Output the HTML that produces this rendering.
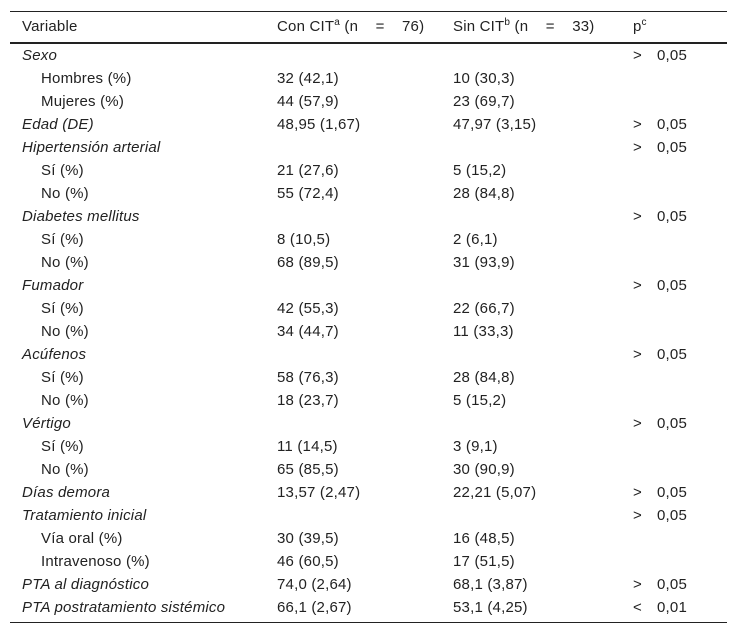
<!DOCTYPE html>
<html><head><meta charset="utf-8"><style>
html,body{margin:0;padding:0;background:#fff;}
body{width:738px;height:637px;position:relative;overflow:hidden;font-family:"Liberation Sans",Arial,sans-serif;font-size:15px;letter-spacing:0.2px;color:#222;}
.rule{position:absolute;left:10px;width:717px;background:#222;}
.row{position:absolute;left:0;width:738px;height:23px;line-height:23px;}
.row span{position:absolute;top:0;white-space:nowrap;}
.c0{left:22px}.c0.ind{left:41px}.c0.it{font-style:italic}
.c1{left:277px}.c2{left:453px}.c3{left:633px}.c4{left:657px}
sup{font-size:10px;line-height:0;vertical-align:6px;}
</style></head><body>
<div class="rule" style="top:11px;height:1px"></div>
<div class="row" style="top:15px">
<span class="c0">Variable</span>
<span class="c1">Con CIT<sup>a</sup> (n &nbsp;&nbsp;&nbsp;= &nbsp;&nbsp;&nbsp;76)</span>
<span class="c2">Sin CIT<sup>b</sup> (n &nbsp;&nbsp;&nbsp;= &nbsp;&nbsp;&nbsp;33)</span>
<span class="c3">p<sup>c</sup></span>
</div>
<div class="rule" style="top:42px;height:2px"></div>
<div id="body"></div>
<div class="rule" style="top:622px;height:1px"></div>
<script>
const rows=[
["Sexo",1,"","",">","0,05"],
["Hombres (%)",0,"32 (42,1)","10 (30,3)","",""],
["Mujeres (%)",0,"44 (57,9)","23 (69,7)","",""],
["Edad (DE)",1,"48,95 (1,67)","47,97 (3,15)",">","0,05"],
["Hipertensión arterial",1,"","",">","0,05"],
["Sí (%)",0,"21 (27,6)","5 (15,2)","",""],
["No (%)",0,"55 (72,4)","28 (84,8)","",""],
["Diabetes mellitus",1,"","",">","0,05"],
["Sí (%)",0,"8 (10,5)","2 (6,1)","",""],
["No (%)",0,"68 (89,5)","31 (93,9)","",""],
["Fumador",1,"","",">","0,05"],
["Sí (%)",0,"42 (55,3)","22 (66,7)","",""],
["No (%)",0,"34 (44,7)","11 (33,3)","",""],
["Acúfenos",1,"","",">","0,05"],
["Sí (%)",0,"58 (76,3)","28 (84,8)","",""],
["No (%)",0,"18 (23,7)","5 (15,2)","",""],
["Vértigo",1,"","",">","0,05"],
["Sí (%)",0,"11 (14,5)","3 (9,1)","",""],
["No (%)",0,"65 (85,5)","30 (90,9)","",""],
["Días demora",1,"13,57 (2,47)","22,21 (5,07)",">","0,05"],
["Tratamiento inicial",1,"","",">","0,05"],
["Vía oral (%)",0,"30 (39,5)","16 (48,5)","",""],
["Intravenoso (%)",0,"46 (60,5)","17 (51,5)","",""],
["PTA al diagnóstico",1,"74,0 (2,64)","68,1 (3,87)",">","0,05"],
["PTA postratamiento sistémico",1,"66,1 (2,67)","53,1 (4,25)","<","0,01"]
];
const body=document.getElementById('body');
rows.forEach((r,i)=>{
 const d=document.createElement('div');
 d.className='row';
 d.style.top=(44+23*i)+'px';
 
 
 const cls=['c0'+(r[1]?' it':' ind'),'c1','c2','c3','c4'];
 const vals=[r[0],r[2],r[3],r[4],r[5]];
 vals.forEach((v,j)=>{
  if(!v)return;
  const s=document.createElement('span');
  s.className=cls[j];
  s.textContent=v;
  
  
  d.appendChild(s);
 });
 body.appendChild(d);
});
</script>
</body></html>
